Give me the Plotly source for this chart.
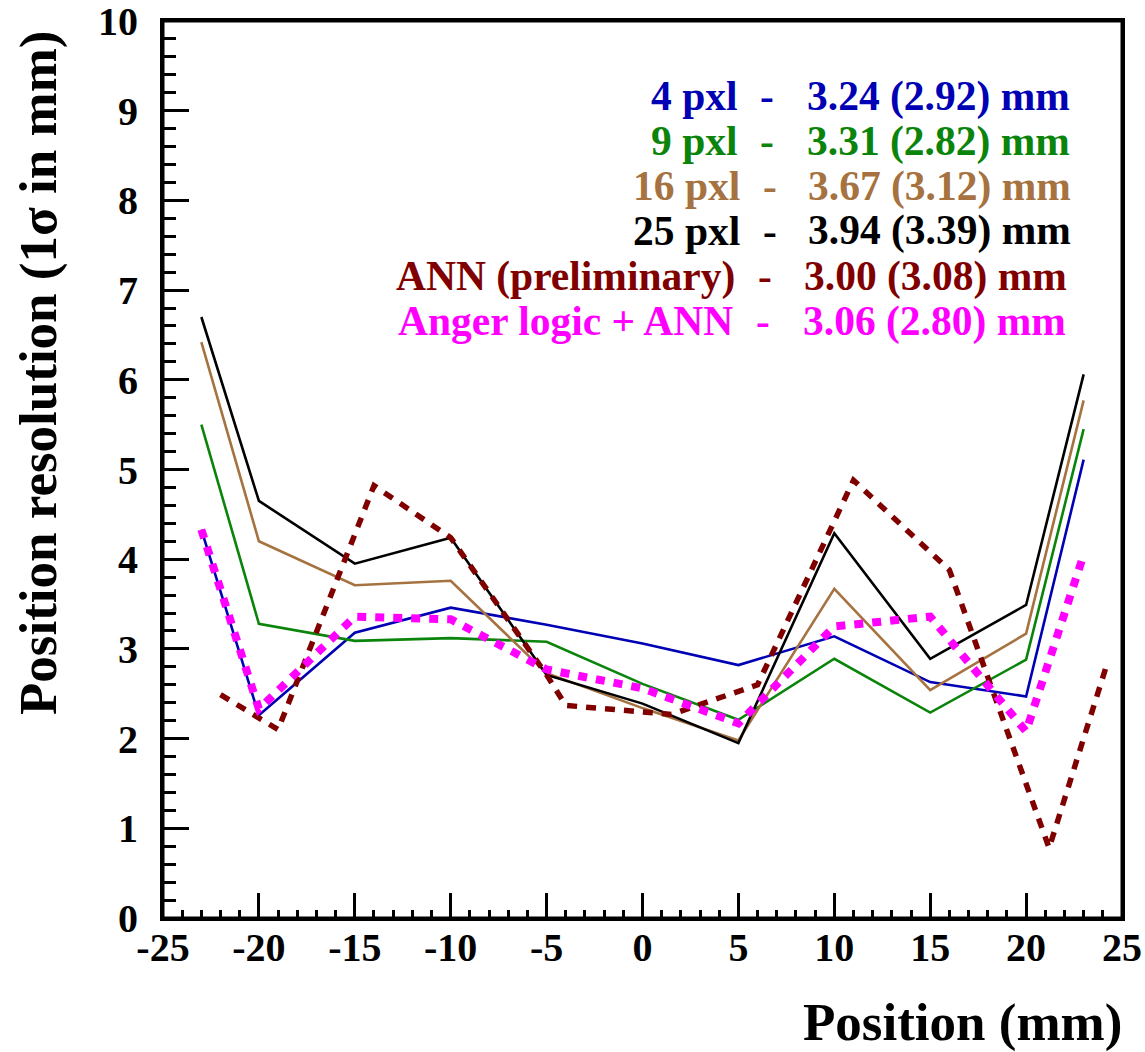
import plotly.graph_objects as go

# ---- data ----
positions = [-23, -20, -15, -10, -5, 0, 5, 10, 15, 20, 23]
res_4pxl = [4.33, 2.26, 3.18, 3.46, 3.27, 3.06, 2.82, 3.14, 2.63, 2.47, 5.11]
res_9pxl = [5.50, 3.28, 3.09, 3.12, 3.08, 2.61, 2.21, 2.89, 2.29, 2.88, 5.45]
res_16pxl = [6.42, 4.20, 3.71, 3.76, 2.73, 2.34, 1.98, 3.67, 2.54, 3.17, 5.77]
res_25pxl = [6.70, 4.65, 3.95, 4.24, 2.71, 2.39, 1.95, 4.29, 2.89, 3.49, 6.06]
res_anger_ann = [4.33, 2.33, 3.36, 3.33, 2.77, 2.56, 2.17, 3.25, 3.36, 2.08, 4.05]

ann_positions = [-22, -19, -14, -10, -5, -4, 1.5, 6, 11, 16, 21.2, 24.2]
res_ann = [2.49, 2.10, 4.82, 4.24, 2.71, 2.37, 2.27, 2.60, 4.88, 3.88, 0.78, 2.82]

series_names = ["4 pxl", "9 pxl", "16 pxl", "25 pxl", "ANN (preliminary)", "Anger logic + ANN"]
series_values_text = ["3.24 (2.92) mm", "3.31 (2.82) mm", "3.67 (3.12) mm",
                      "3.94 (3.39) mm", "3.00 (3.08) mm", "3.06 (2.80) mm"]

x_tick_vals = [-25, -20, -15, -10, -5, 0, 5, 10, 15, 20, 25]
x_tick_text = ["-25", "-20", "-15", "-10", "-5", "0", "5", "10", "15", "20", "25"]
y_tick_vals = [0, 1, 2, 3, 4, 5, 6, 7, 8, 9, 10]
y_tick_text = ["0", "1", "2", "3", "4", "5", "6", "7", "8", "9", "10"]

x_title = "Position (mm)"
y_title = "Position resolution (1σ in mm)"

# ---- styles ----
colors = ["#0000b4", "#0a840a", "#a57240", "#000000", "#800000", "#ff00ff"]
FONT = "Liberation Serif"

W, H = 1145, 1052
ML, MR, MT, MB = 163, 23, 21, 134
PW, PH = W - ML - MR, H - MT - MB


def px2paper_x(px):
    return (px - ML) / PW


def px2paper_y(py):
    return (H - MB - py) / PH


fig = go.Figure()

solid = [(res_4pxl, 0), (res_9pxl, 1), (res_16pxl, 2), (res_25pxl, 3)]
for vals, i in solid:
    fig.add_trace(go.Scatter(x=positions, y=vals, mode="lines", name=series_names[i],
                             line=dict(color=colors[i], width=2.6)))

fig.add_trace(go.Scatter(x=ann_positions, y=res_ann, mode="lines", name=series_names[4],
                         line=dict(color=colors[4], width=5.5, dash="10px,9px")))
fig.add_trace(go.Scatter(x=positions, y=res_anger_ann, mode="lines", name=series_names[5],
                         line=dict(color=colors[5], width=8, dash="9px,9px")))

# legend-like text block
row_y = [96, 141, 186, 231, 276, 321]
label_right = [739, 739, 741, 741, 736, 734]
dash_center = [767, 767, 770, 770, 765, 763]
value_left = [806, 806, 807, 807, 803, 802]
annots = []
for i in range(6):
    fnt = dict(family=FONT, size=41.5, color=colors[i], weight="bold")
    yy = px2paper_y(row_y[i])
    annots.append(dict(x=px2paper_x(label_right[i]), y=yy, xref="paper", yref="paper",
                       text=series_names[i], showarrow=False, xanchor="right", yanchor="middle",
                       font=fnt, borderpad=0))
    annots.append(dict(x=px2paper_x(dash_center[i]), y=yy, xref="paper", yref="paper",
                       text="-", showarrow=False, xanchor="center", yanchor="middle",
                       font=fnt, borderpad=0))
    annots.append(dict(x=px2paper_x(value_left[i]), y=yy, xref="paper", yref="paper",
                       text=series_values_text[i], showarrow=False, xanchor="left", yanchor="middle",
                       font=fnt, borderpad=0))

# axis titles
annots.append(dict(x=px2paper_x(1123), y=px2paper_y(1022), xref="paper", yref="paper",
                   text=x_title, showarrow=False, xanchor="right", yanchor="middle",
                   font=dict(family=FONT, size=53, color="black", weight="bold"), borderpad=0))
annots.append(dict(x=px2paper_x(38), y=px2paper_y(373), xref="paper", yref="paper",
                   text=y_title, showarrow=False, xanchor="center", yanchor="middle", textangle=-90,
                   font=dict(family=FONT, size=53, color="black", weight="bold"), borderpad=0))

tickfont = dict(family=FONT, size=40, color="black", weight="bold")

fig.update_layout(
    width=W, height=H,
    margin=dict(l=ML, r=MR, t=MT, b=MB, pad=0, autoexpand=False),
    paper_bgcolor="white", plot_bgcolor="white",
    showlegend=False,
    annotations=annots,
    shapes=[dict(type="rect", xref="paper", yref="paper", x0=0, x1=1, y0=0, y1=1,
                 line=dict(color="black", width=3), layer="above")],
    xaxis=dict(range=[-25, 25], tickmode="array", tickvals=x_tick_vals, ticktext=x_tick_text,
               ticks="inside", ticklen=25, tickwidth=3, tickcolor="black",
               minor=dict(dtick=1, ticks="inside", ticklen=8, tickwidth=2.5, tickcolor="black", showgrid=False),
               showline=True, linewidth=3, linecolor="black", mirror=True, automargin=False,
               ticklabeloverflow="allow",
               showgrid=False, zeroline=False, tickfont=tickfont, ticklabelstandoff=-8),
    yaxis=dict(range=[0, 10], tickmode="array", tickvals=y_tick_vals, ticktext=y_tick_text,
               ticks="inside", ticklen=26, tickwidth=3, tickcolor="black",
               minor=dict(dtick=0.2, ticks="inside", ticklen=13, tickwidth=2.5, tickcolor="black", showgrid=False),
               showline=True, linewidth=3, linecolor="black", mirror=True, automargin=False,
               ticklabeloverflow="allow",
               showgrid=False, zeroline=False, tickfont=tickfont, ticklabelstandoff=14),
)

fig.write_html("out.html")
